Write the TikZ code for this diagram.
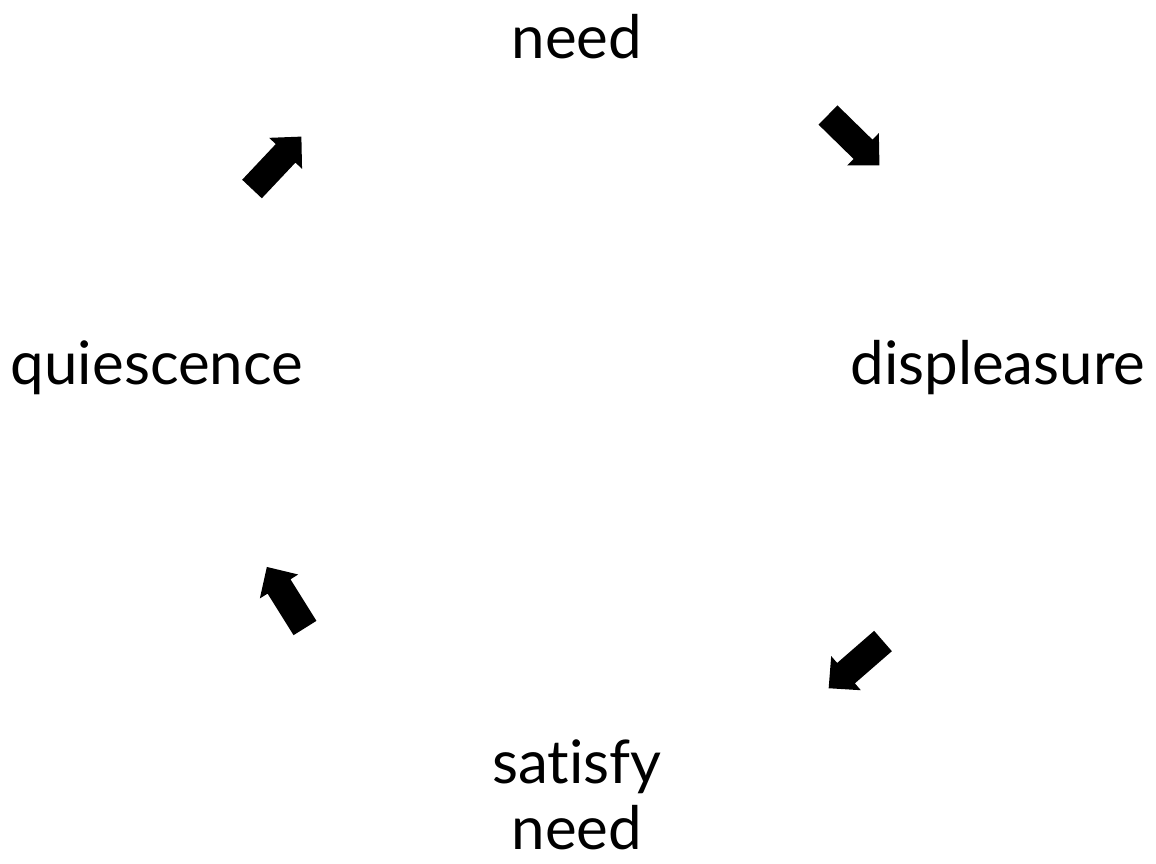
\documentclass[tikz,border=0pt]{standalone}
\usepackage{fontspec}
\setmainfont[Ligatures={NoCommon}]{Lato}
\tikzset{
  label text/.style={font=\fontsize{60}{66}\selectfont, text=black, inner sep=0pt, align=center},
  pics/blockarrow/.style={code={
    \fill[black] (0,-13.5) -- (49,-13.5) -- (49,-22.6) -- (72,0) -- (49,22.6) -- (49,13.5) -- (0,13.5) -- cycle;
  }}
}
\begin{document}
\begin{tikzpicture}[x=1pt,y=1pt]
  \useasboundingbox (0,0) rectangle (1156,-863);
  \node[label text] (need) at (577,-37) {need};
  \node[label text] (displeasure) at (998,-368) {displeasure};
  \node[label text] (satisfy) at (577,-795) {satisfy\\need};
  \node[label text] (quiescence) at (157,-368) {quiescence};
  \pic[rotate=-44.4] (a1) at (828,-115) {blockarrow};
  \pic[rotate=221] (a2) at (883,-641) {blockarrow};
  \pic[rotate=122] (a3) at (305,-628) {blockarrow};
  \pic[rotate=46.7] (a4) at (252,-189) {blockarrow};
\end{tikzpicture}
\end{document}
